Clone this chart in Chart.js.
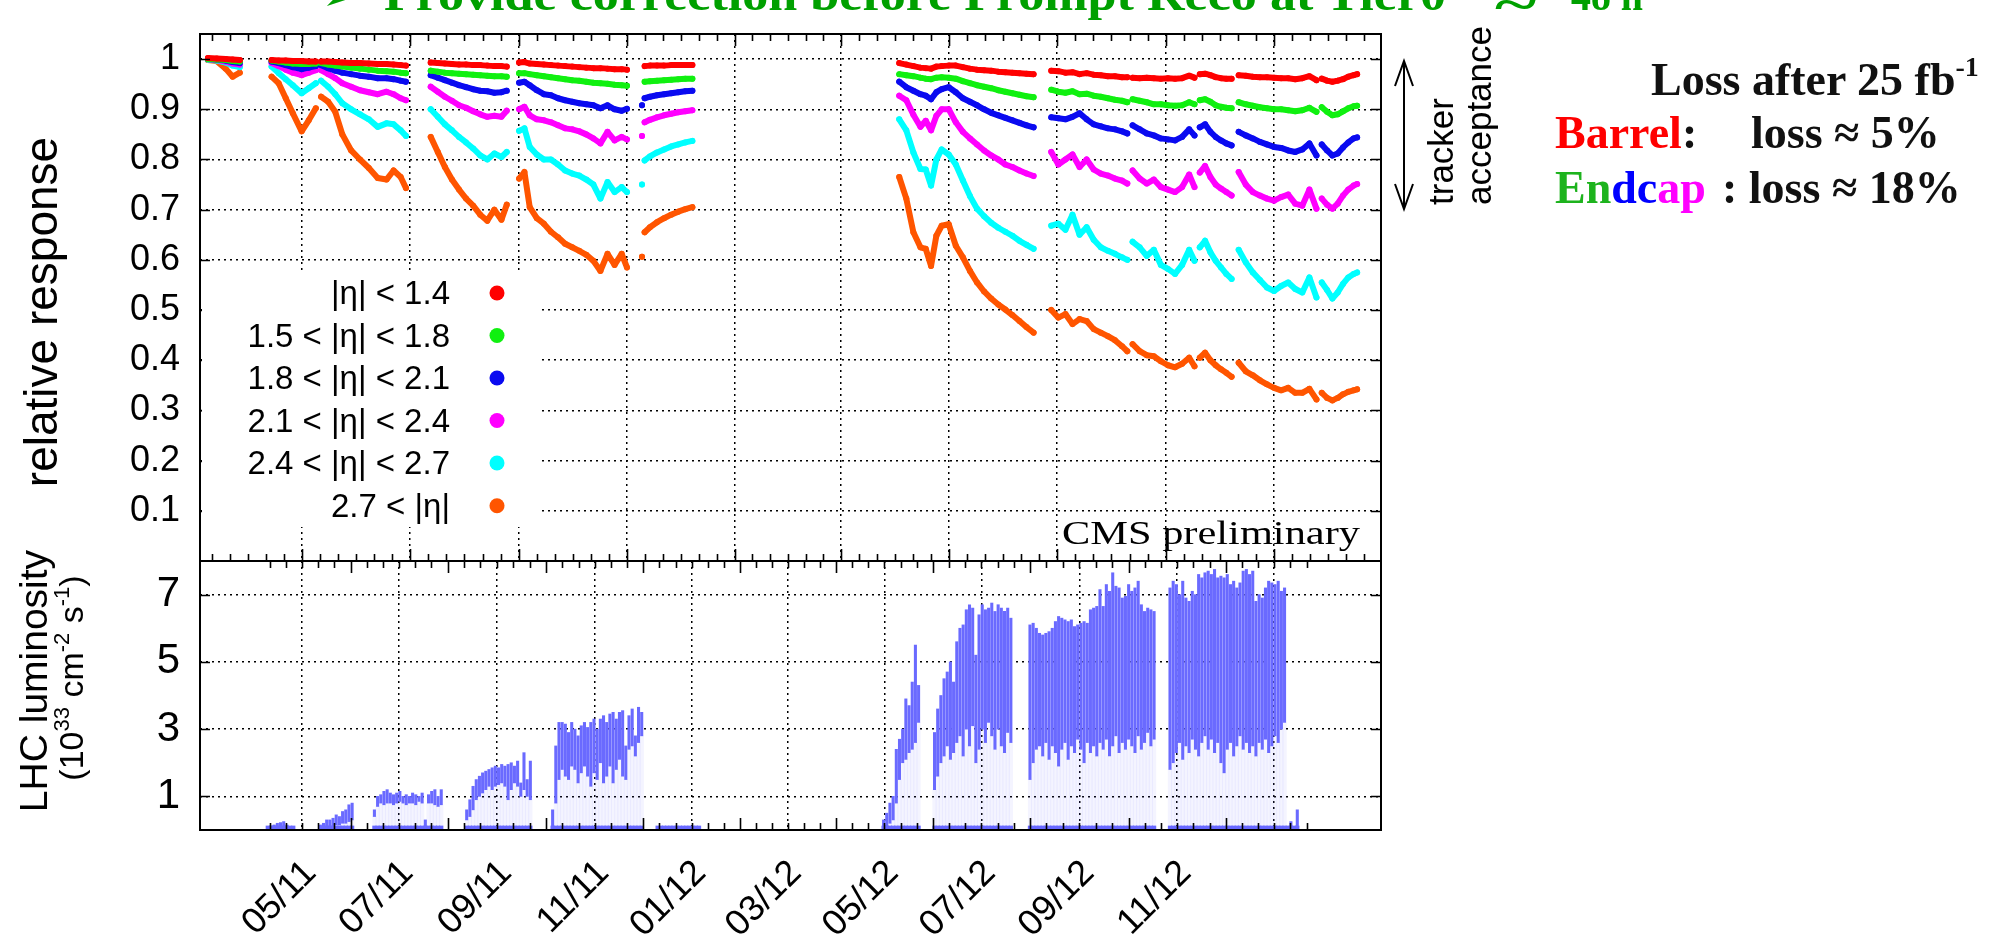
<!DOCTYPE html>
<html>
<head>
<meta charset="utf-8">
<script src="https://cdn.jsdelivr.net/npm/chart.js@4.4.0/dist/chart.umd.min.js"></script>
<style>
  html, body { margin: 0; padding: 0; background: #fff; }
  #wrap { position: relative; width: 1997px; height: 947px; overflow: hidden; }
  canvas { position: absolute; left: 0; }
  #respChart { top: 0; }
  #lumiChart { top: 545px; }
  #notes { position: absolute; left: 0; top: 0; }
</style>
</head>
<body>
<div id="wrap">
  <canvas id="respChart" width="1400" height="563"></canvas>
  <canvas id="lumiChart" width="1400" height="402"></canvas>
  <svg id="notes" width="1997" height="947" xmlns="http://www.w3.org/2000/svg">
    <text x="322" y="10" font-family="DejaVu Sans" font-size="44" fill="#00a000">➢</text>
    <text x="384" y="10" font-family="Liberation Serif" font-weight="bold" font-size="46" fill="#00a000"
          textLength="1062" lengthAdjust="spacingAndGlyphs">Provide correction before Prompt Reco at Tier0</text>
    <text x="1495" y="20" font-family="Liberation Serif" font-weight="bold" font-size="46" fill="#00a000"
          textLength="41" lengthAdjust="spacingAndGlyphs">~</text>
    <text x="1571" y="10" font-family="Liberation Serif" font-weight="bold" font-size="46" fill="#00a000"
          textLength="72" lengthAdjust="spacingAndGlyphs">48 h</text>

    <text transform="translate(57,312) rotate(-90)" text-anchor="middle" font-family="Liberation Sans" font-size="46">relative response</text>
    <text transform="translate(47,681) rotate(-90)" text-anchor="middle" font-family="Liberation Sans" font-size="39">LHC luminosity</text>
    <text transform="translate(83,678) rotate(-90)" text-anchor="middle" font-family="Liberation Sans" font-size="34">(10<tspan font-size="22" dy="-14">33</tspan><tspan dy="14"> cm</tspan><tspan font-size="22" dy="-14">-2</tspan><tspan dy="14"> s</tspan><tspan font-size="22" dy="-14">-1</tspan><tspan dy="14">)</tspan></text>

    <text x="1062" y="544" font-family="Liberation Serif" font-size="34" textLength="298" lengthAdjust="spacingAndGlyphs">CMS preliminary</text>

    <g stroke="#000" stroke-width="2" fill="none">
      <line x1="1404" y1="61" x2="1404" y2="209"/>
      <polyline points="1395,86 1404,61 1413,86"/>
      <polyline points="1395,184 1404,209 1413,184"/>
    </g>
    <text transform="translate(1453,205) rotate(-90)" font-family="Liberation Sans" font-size="35">tracker</text>
    <text transform="translate(1491,205) rotate(-90)" font-family="Liberation Sans" font-size="35">acceptance</text>

    <g font-family="Liberation Serif" font-weight="bold" font-size="46" fill="#111">
      <text x="1651" y="95">Loss after 25 fb<tspan font-size="28" dy="-19">-1</tspan></text>
      <text x="1555" y="148"><tspan fill="#ff0000">Barrel</tspan>:<tspan x="1751">loss ≈ 5%</tspan></text>
      <text x="1555" y="203"><tspan fill="#1db31d">En</tspan><tspan fill="#0000ff">dc</tspan><tspan fill="#ff00ff">ap</tspan><tspan x="1722">: loss ≈ 18%</tspan></text>
    </g>
    <g id="legend"></g>
  </svg>
</div>
<script>
// days counted from 1 Jan 2011
const tickDays = [120, 181, 243, 304, 365, 425, 486, 547, 609, 670];
const tickLabels = ['05/11', '07/11', '09/11', '11/11', '01/12', '03/12', '05/12', '07/12', '09/12', '11/12'];
const respTicks = [0.1, 0.2, 0.3, 0.4, 0.5, 0.6, 0.7, 0.8, 0.9, 1.0];
const respTickLabels = ['0.1', '0.2', '0.3', '0.4', '0.5', '0.6', '0.7', '0.8', '0.9', '1'];
const lumiTicks = [1, 3, 5, 7];
const lumiTickLabels = ['1', '3', '5', '7'];

const etaLabels = ['|η| < 1.4', '1.5 < |η| < 1.8', '1.8 < |η| < 2.1', '2.1 < |η| < 2.4', '2.4 < |η| < 2.7', '2.7 < |η|'];
const etaColors = ['#ff0000', '#10f010', '#0a0af0', '#ff00ff', '#00ffff', '#ff5500'];

// one row per fill period, last entry of a row is the gap after it
const respDays = [
  67, 72, 77, 81, 85, 94,
  103, 107, 111, 115, 120, 124, 128, 129.5,
  131, 135, 139, 143, 148, 153, 158, 163, 168, 172, 176, 179, 186,
  193, 197, 201, 205, 209, 213, 217, 221, 225, 229, 233, 236, 239.5,
  243, 246, 249, 253, 257, 261, 265, 269, 273, 277, 281, 285, 289, 293, 297, 301, 304, 308,
  312.5, 313.2,
  314, 317, 321, 325, 329, 333, 337, 341, 400,
  458, 462, 466, 470, 473, 476, 479, 482, 486, 490, 494, 498, 502, 506, 510, 514, 518, 522, 526, 530, 534, 539,
  544, 548, 552, 556, 560, 564, 568, 572, 576, 580, 584, 587, 588.7,
  590, 594, 598, 602, 606, 610, 614, 618, 622, 625, 626.8,
  628, 631, 634, 637, 640, 643, 646, 648.5,
  650, 654, 658, 662, 666, 670, 674, 678, 682, 686, 690, 694, 695.8,
  697, 700, 703, 706, 709, 712, 715, 717
];
const respEta14 = [
  1.002, 1.001, 1.000, 0.999, 0.998, null,
  0.998, 0.997, 0.997, 0.996, 0.996, 0.995, 0.995, null,
  0.995, 0.995, 0.994, 0.993, 0.992, 0.992, 0.991, 0.990, 0.990, 0.989, 0.988, 0.987, null,
  0.993, 0.992, 0.991, 0.990, 0.989, 0.989, 0.988, 0.988, 0.987, 0.986, 0.986, 0.985, null,
  0.993, 0.994, 0.991, 0.990, 0.989, 0.988, 0.987, 0.986, 0.985, 0.984, 0.983, 0.982, 0.982, 0.981, 0.980, 0.980, 0.979, null,
  null, null,
  0.986, 0.987, 0.987, 0.987, 0.988, 0.988, 0.988, 0.988, null,
  0.992, 0.989, 0.986, 0.983, 0.982, 0.981, 0.985, 0.986, 0.987, 0.987, 0.984, 0.981, 0.979, 0.978, 0.977, 0.975, 0.974, 0.973, 0.972, 0.971, 0.970, null,
  0.977, 0.976, 0.973, 0.974, 0.970, 0.972, 0.969, 0.968, 0.966, 0.966, 0.964, 0.964, null,
  0.963, 0.962, 0.963, 0.962, 0.961, 0.962, 0.961, 0.962, 0.967, 0.963, null,
  0.970, 0.971, 0.968, 0.964, 0.962, 0.961, 0.961, null,
  0.968, 0.967, 0.965, 0.964, 0.964, 0.963, 0.962, 0.962, 0.960, 0.962, 0.966, 0.958, null,
  0.961, 0.957, 0.955, 0.957, 0.960, 0.965, 0.968, 0.970
];
const respEta18 = [
  1.000, 0.999, 0.998, 0.996, 0.995, null,
  0.997, 0.995, 0.993, 0.991, 0.990, 0.990, 0.991, null,
  0.992, 0.989, 0.987, 0.985, 0.983, 0.981, 0.979, 0.977, 0.976, 0.975, 0.973, 0.972, null,
  0.977, 0.975, 0.973, 0.972, 0.971, 0.970, 0.969, 0.968, 0.967, 0.966, 0.966, 0.965, null,
  0.972, 0.972, 0.970, 0.968, 0.966, 0.964, 0.962, 0.960, 0.958, 0.957, 0.955, 0.953, 0.952, 0.951, 0.949, 0.948, 0.947, null,
  null, null,
  0.955, 0.956, 0.957, 0.958, 0.959, 0.960, 0.961, 0.961, null,
  0.970, 0.968, 0.966, 0.963, 0.961, 0.960, 0.963, 0.964, 0.963, 0.961, 0.956, 0.952, 0.948, 0.945, 0.942, 0.938, 0.935, 0.932, 0.929, 0.926, 0.924, null,
  0.939, 0.935, 0.933, 0.936, 0.930, 0.931, 0.927, 0.925, 0.922, 0.919, 0.917, 0.914, null,
  0.920, 0.917, 0.914, 0.910, 0.910, 0.908, 0.907, 0.908, 0.914, 0.910, null,
  0.918, 0.920, 0.915, 0.908, 0.905, 0.903, 0.902, null,
  0.914, 0.910, 0.907, 0.904, 0.902, 0.900, 0.900, 0.898, 0.896, 0.898, 0.903, 0.895, null,
  0.904, 0.895, 0.888, 0.890, 0.896, 0.902, 0.906, 0.907
];
const respEta21 = [
  1.000, 0.999, 0.997, 0.994, 0.992, null,
  0.995, 0.992, 0.988, 0.984, 0.980, 0.983, 0.986, null,
  0.988, 0.982, 0.977, 0.973, 0.970, 0.967, 0.965, 0.962, 0.962, 0.960, 0.957, 0.955, null,
  0.968, 0.963, 0.958, 0.953, 0.948, 0.944, 0.940, 0.937, 0.936, 0.933, 0.934, 0.937, null,
  0.953, 0.955, 0.948, 0.938, 0.930, 0.928, 0.922, 0.918, 0.915, 0.912, 0.910, 0.908, 0.902, 0.908, 0.900, 0.897, 0.901, null,
  0.908, null,
  0.922, 0.925, 0.928, 0.930, 0.932, 0.934, 0.936, 0.937, null,
  0.955, 0.944, 0.937, 0.930, 0.927, 0.920, 0.934, 0.940, 0.944, 0.934, 0.922, 0.915, 0.908, 0.900, 0.893, 0.888, 0.883, 0.878, 0.873, 0.868, 0.864, null,
  0.884, 0.882, 0.880, 0.885, 0.892, 0.880, 0.870, 0.866, 0.862, 0.860, 0.856, 0.852, null,
  0.868, 0.860, 0.852, 0.848, 0.842, 0.840, 0.838, 0.845, 0.860, 0.848, null,
  0.864, 0.870, 0.855, 0.845, 0.838, 0.832, 0.828, null,
  0.855, 0.848, 0.842, 0.835, 0.830, 0.825, 0.823, 0.818, 0.815, 0.820, 0.832, 0.808, null,
  0.830, 0.818, 0.808, 0.812, 0.824, 0.834, 0.842, 0.844
];
const respEta24 = [
  1.000, 0.998, 0.995, 0.991, 0.989, null,
  0.992, 0.986, 0.979, 0.973, 0.968, 0.973, 0.978, null,
  0.978, 0.970, 0.962, 0.952, 0.945, 0.938, 0.934, 0.930, 0.935, 0.930, 0.922, 0.918, null,
  0.945, 0.935, 0.925, 0.917, 0.908, 0.903, 0.896, 0.890, 0.885, 0.887, 0.885, 0.897, null,
  0.900, 0.905, 0.888, 0.880, 0.878, 0.874, 0.868, 0.862, 0.860, 0.856, 0.850, 0.842, 0.832, 0.855, 0.838, 0.845, 0.840, null,
  0.847, null,
  0.874, 0.879, 0.884, 0.888, 0.891, 0.894, 0.896, 0.898, null,
  0.927, 0.918, 0.889, 0.865, 0.877, 0.858, 0.887, 0.900, 0.900, 0.874, 0.855, 0.842, 0.830, 0.818, 0.808, 0.800, 0.790, 0.785, 0.778, 0.772, 0.767, null,
  0.815, 0.790, 0.800, 0.810, 0.785, 0.800, 0.780, 0.772, 0.768, 0.762, 0.758, 0.752, null,
  0.778, 0.762, 0.752, 0.760, 0.745, 0.740, 0.735, 0.745, 0.770, 0.745, null,
  0.774, 0.787, 0.765, 0.750, 0.742, 0.735, 0.728, null,
  0.775, 0.750, 0.735, 0.728, 0.722, 0.718, 0.725, 0.730, 0.712, 0.708, 0.740, 0.702, null,
  0.722, 0.710, 0.702, 0.712, 0.728, 0.740, 0.748, 0.751
];
const respEta27 = [
  0.999, 0.997, 0.993, 0.987, 0.984, null,
  0.985, 0.972, 0.960, 0.948, 0.932, 0.942, 0.952, null,
  0.957, 0.945, 0.930, 0.912, 0.900, 0.890, 0.880, 0.865, 0.872, 0.870, 0.858, 0.847, null,
  0.900, 0.885, 0.870, 0.858, 0.845, 0.834, 0.822, 0.808, 0.800, 0.812, 0.805, 0.815, null,
  0.857, 0.862, 0.825, 0.810, 0.800, 0.800, 0.790, 0.778, 0.772, 0.768, 0.760, 0.750, 0.722, 0.755, 0.735, 0.745, 0.735, null,
  0.750, null,
  0.798, 0.806, 0.814, 0.820, 0.826, 0.830, 0.834, 0.837, null,
  0.880, 0.858, 0.814, 0.781, 0.780, 0.748, 0.800, 0.820, 0.810, 0.790, 0.758, 0.727, 0.702, 0.687, 0.674, 0.664, 0.656, 0.648, 0.638, 0.630, 0.622, null,
  0.668, 0.672, 0.660, 0.690, 0.650, 0.665, 0.640, 0.625, 0.618, 0.612, 0.605, 0.600, null,
  0.636, 0.625, 0.608, 0.620, 0.590, 0.582, 0.572, 0.590, 0.620, 0.598, null,
  0.625, 0.638, 0.615, 0.598, 0.585, 0.572, 0.562, null,
  0.620, 0.595, 0.575, 0.560, 0.545, 0.538, 0.548, 0.555, 0.542, 0.535, 0.565, 0.525, null,
  0.555, 0.540, 0.523, 0.535, 0.552, 0.565, 0.572, 0.575
];
const respEtaFwd = [
  0.998, 0.996, 0.981, 0.965, 0.973, null,
  0.965, 0.952, 0.922, 0.892, 0.856, 0.878, 0.902, null,
  0.925, 0.915, 0.895, 0.850, 0.818, 0.800, 0.783, 0.763, 0.760, 0.778, 0.765, 0.743, null,
  0.845, 0.815, 0.785, 0.760, 0.740, 0.722, 0.708, 0.690, 0.678, 0.700, 0.680, 0.710, null,
  0.762, 0.775, 0.705, 0.683, 0.672, 0.656, 0.645, 0.632, 0.625, 0.618, 0.610, 0.598, 0.578, 0.612, 0.590, 0.612, 0.585, null,
  0.606, null,
  0.655, 0.665, 0.675, 0.683, 0.690, 0.696, 0.701, 0.705, null,
  0.765, 0.722, 0.655, 0.625, 0.622, 0.588, 0.648, 0.668, 0.671, 0.628, 0.605, 0.578, 0.555, 0.537, 0.523, 0.511, 0.501, 0.490, 0.478, 0.466, 0.455, null,
  0.500, 0.485, 0.492, 0.472, 0.482, 0.478, 0.462, 0.455, 0.448, 0.440, 0.428, 0.418, null,
  0.432, 0.418, 0.410, 0.408, 0.398, 0.390, 0.386, 0.393, 0.405, 0.388, null,
  0.405, 0.415, 0.400, 0.390, 0.382, 0.375, 0.367, null,
  0.395, 0.378, 0.370, 0.360, 0.352, 0.345, 0.340, 0.345, 0.335, 0.335, 0.343, 0.322, null,
  0.335, 0.325, 0.320, 0.325, 0.332, 0.337, 0.340, 0.342
];
const respSeries = [respEta14, respEta18, respEta21, respEta24, respEta27, respEtaFwd];

// luminosity, 1e33 cm^-2 s^-1: band of instantaneous values per day
const lumiDays = [
  68, 70, 72, 74, 76, 78, 80, 82, 84,
  101, 103, 105, 107, 109, 111, 113, 115, 117, 119, 121,
  135, 137, 139, 141, 143, 145, 147, 149, 151, 153, 155, 157, 159, 161, 163, 165, 167, 169, 171, 173, 175, 177,
  193, 195, 197, 199, 201, 203, 205, 207, 209, 211, 213, 215, 217, 219, 221, 223, 225, 227, 229, 231, 233,
  247, 249, 251, 253, 255, 257, 259, 261, 263, 265, 267, 269, 271, 273, 275, 277, 279, 281, 283, 285, 287, 289, 291, 293, 295, 297, 299, 301, 303,
  313, 315, 317, 319, 321, 323, 325, 327, 329, 331, 333, 335, 337, 339,
  455, 457, 459, 461, 463, 465, 467, 469, 471, 473, 475, 477,
  487, 489, 491, 493, 495, 497, 499, 501, 503, 505, 507, 509, 511, 513, 515, 517, 519, 521, 523, 525, 527, 529, 531, 533, 535,
  547, 549, 551, 553, 555, 557, 559, 561, 563, 565, 567, 569, 571, 573, 575, 577, 579, 581, 583, 585,
  587, 589, 591, 593, 595, 597, 599, 601, 603, 605, 607, 609, 611, 613, 615, 617, 619, 621, 623, 625,
  635, 637, 639, 641, 643, 645, 647, 649, 651, 653, 655, 657, 659, 661, 663, 665, 667, 669, 671,
  673, 675, 677, 679, 681, 683, 685, 687, 689, 691, 693, 695, 697, 699, 701, 703, 705, 707,
  709, 711, 713, 715
];
const lumiHigh = [
  0.10, 0.12, 0.15, 0.20, 0.22, 0.25, 0.15, 0.10, 0.08,
  0.15, 0.20, 0.30, 0.30, 0.35, 0.45, 0.40, 0.55, 0.60, 0.75, 0.80,
  0.60, 1.00, 1.05, 1.15, 1.20, 1.10, 1.05, 1.10, 1.15, 1.00, 1.05, 1.00, 1.10, 1.05, 1.00, 1.10, 0.30, 1.05, 1.15, 1.20, 1.00, 1.20,
  0.60, 0.90, 1.30, 1.50, 1.60, 1.70, 1.75, 1.80, 1.85, 1.90, 1.85, 1.95, 1.90, 1.95, 2.00, 1.90, 2.05, 1.40, 2.30, 1.50, 2.05,
  0.60, 2.50, 3.20, 3.20, 3.15, 2.90, 3.20, 3.00, 2.80, 3.10, 3.20, 3.05, 3.20, 3.30, 3.00, 3.30, 3.40, 3.20, 3.45, 3.50, 3.30, 3.50, 3.55, 2.50, 3.40, 3.60, 2.80, 3.65, 3.50,
  0.08, 0.08, 0.08, 0.08, 0.08, 0.08, 0.08, 0.08, 0.08, 0.08, 0.08, 0.08, 0.08, 0.08,
  0.30, 0.50, 0.80, 1.00, 2.40, 2.70, 3.00, 3.90, 3.70, 4.40, 5.50, 4.30,
  2.90, 3.60, 4.00, 4.50, 4.70, 5.00, 4.40, 5.60, 6.00, 6.10, 6.55, 6.70, 6.60, 5.20, 6.40, 6.70, 6.55, 6.60, 6.75, 6.50, 6.70, 6.60, 6.50, 6.60, 6.30,
  6.10, 6.15, 6.00, 5.85, 5.80, 5.85, 5.90, 6.00, 6.20, 6.35, 6.30, 6.25, 6.20, 6.25, 6.05, 6.10, 6.15, 6.20, 6.15, 6.55,
  6.60, 6.65, 7.15, 6.65, 7.30, 7.10, 7.65, 7.25, 7.20, 6.90, 6.95, 7.30, 7.10, 7.20, 7.40, 6.70, 6.50, 6.60, 6.55, 6.50,
  7.20, 7.40, 7.30, 7.00, 7.40, 6.90, 6.80, 7.10, 7.00, 7.60, 7.50, 7.65, 7.70, 7.60, 7.75, 7.50, 7.55, 7.50, 7.60,
  7.30, 7.40, 7.20, 7.35, 7.70, 7.75, 7.60, 7.70, 6.80, 7.00, 6.90, 7.20, 7.40, 7.35, 7.30, 7.40, 7.10, 7.20,
  0.10, 0.25, 0.10, 0.60
];
const lumiLow = [
  0, 0, 0, 0, 0, 0, 0, 0, 0,
  0.05, 0.05, 0.10, 0.10, 0.10, 0.15, 0.15, 0.20, 0.20, 0.25, 0.30,
  0.40, 0.70, 0.80, 0.75, 0.80, 0.80, 0.75, 0.80, 0.85, 0.80, 0.75, 0.80, 0.80, 0.75, 0.85, 0.80, 0.10, 0.80, 0.80, 0.75, 0.70, 0.75,
  0.30, 0.40, 0.60, 0.90, 1.00, 1.10, 1.20, 1.30, 1.20, 1.30, 1.35, 1.40, 1.30, 0.90, 1.20, 1.40, 1.30, 1.00, 1.20, 1.00, 0.90,
  0.10, 0.80, 1.50, 1.80, 1.60, 1.50, 1.90, 1.80, 1.40, 1.70, 1.90, 1.60, 1.30, 1.70, 1.50, 2.00, 1.40, 1.60, 1.90, 1.40, 1.80, 2.10, 1.60, 1.50, 2.40, 2.50, 2.20, 2.60, 2.80,
  0, 0, 0, 0, 0, 0, 0, 0, 0, 0, 0, 0, 0, 0,
  0, 0.10, 0.20, 0.30, 0.80, 1.50, 2.00, 2.10, 2.30, 2.40, 2.60, 3.20,
  1.20, 1.60, 2.00, 2.20, 2.50, 2.10, 2.30, 2.60, 2.80, 2.20, 3.00, 2.50, 3.10, 2.00, 2.40, 3.00, 2.60, 3.20, 2.80, 2.40, 3.00, 2.50, 2.30, 2.90, 2.60,
  1.50, 2.00, 2.40, 2.50, 2.20, 2.60, 2.10, 2.50, 2.30, 1.90, 2.40, 2.60, 2.10, 2.50, 2.30, 2.70, 2.40, 2.00, 2.60, 2.30,
  2.50, 2.20, 2.60, 2.40, 2.70, 2.20, 2.50, 2.80, 2.30, 2.60, 2.40, 2.70, 2.50, 2.30, 2.80, 2.40, 2.60, 2.90, 2.50, 2.70,
  1.80, 2.00, 2.30, 2.60, 2.10, 2.50, 2.30, 2.70, 2.40, 2.20, 2.60, 2.80, 2.40, 2.70, 2.30, 2.60, 2.00, 1.70, 2.40,
  2.60, 2.20, 2.50, 2.80, 2.40, 2.60, 2.30, 2.50, 2.20, 2.60, 2.40, 2.70, 2.30, 2.50, 2.80, 2.60, 3.00, 3.20,
  0, 0, 0, 0
];
const lumiFloor = 0.12;

const xMin = 62.5, xMax = 730.5;

function minorDays() {
  const out = [];
  for (let i = 0; i < tickDays.length - 1; i++) {
    const s = (tickDays[i + 1] - tickDays[i]) / 6;
    for (let j = 1; j < 6; j++) out.push(tickDays[i] + j * s);
  }
  const s0 = (tickDays[1] - tickDays[0]) / 6;
  for (let d = tickDays[0] - s0; d > xMin; d -= s0) out.push(d);
  const n = tickDays.length;
  const s1 = (tickDays[n - 1] - tickDays[n - 2]) / 6;
  for (let d = tickDays[n - 1] + s1; d < xMax; d += s1) out.push(d);
  return out;
}

// gnuplot style: ticks pointing inwards on all four sides and a closed frame
const frameTicks = {
  id: 'frameTicks',
  afterDraw(chart, args, opts) {
    const { ctx, chartArea: a } = chart;
    const xs = chart.scales.x, ys = chart.scales.y;
    ctx.save();
    ctx.strokeStyle = '#000';
    ctx.lineWidth = 1.6;
    ctx.beginPath();
    const xt = (d, len) => {
      const px = Math.round(xs.getPixelForValue(d)) + 0.5;
      ctx.moveTo(px, a.top); ctx.lineTo(px, a.top + len);
      ctx.moveTo(px, a.bottom); ctx.lineTo(px, a.bottom - len);
    };
    tickDays.forEach(d => xt(d, 12));
    minorDays().forEach(d => xt(d, 7));
    opts.yTicks.forEach(v => {
      const py = Math.round(ys.getPixelForValue(v)) + 0.5;
      ctx.moveTo(a.left, py); ctx.lineTo(a.left + 10, py);
      ctx.moveTo(a.right, py); ctx.lineTo(a.right - 10, py);
    });
    ctx.stroke();
    ctx.lineWidth = 2;
    ctx.strokeRect(a.left, a.top, a.right - a.left, a.bottom - a.top);
    ctx.restore();
  }
};

Chart.defaults.font.family = 'Liberation Sans';
Chart.defaults.color = '#000';

const gridStyle = { color: '#000', lineWidth: 1.5, drawTicks: false };
const dotted = { display: false, dash: [2, 4] };

function xAxis(withLabels) {
  return {
    type: 'linear',
    min: xMin,
    max: xMax,
    afterBuildTicks: s => { s.ticks = tickDays.map(v => ({ value: v })); },
    afterFit: s => {
      s.height = withLabels ? 117 : 0;
      s.paddingLeft = 0;
      s.paddingRight = 0;
    },
    grid: gridStyle,
    border: dotted,
    ticks: withLabels ? {
      autoSkip: false,
      minRotation: 45,
      maxRotation: 45,
      padding: 22,
      labelOffset: -40,
      font: { size: 36 },
      callback: (v, i) => tickLabels[i]
    } : { display: false }
  };
}

function yAxis(min, max, ticks, labels, size) {
  return {
    type: 'linear',
    min: min,
    max: max,
    afterBuildTicks: s => { s.ticks = ticks.map(v => ({ value: v })); },
    afterFit: s => {
      s.width = 200;
      s.paddingTop = 0;
      s.paddingBottom = 0;
    },
    grid: gridStyle,
    border: dotted,
    ticks: { autoSkip: false, padding: 20, font: { size: size }, callback: (v, i) => labels[i] }
  };
}

new Chart(document.getElementById('respChart'), {
  type: 'line',
  data: {
    datasets: respSeries.map((vals, k) => ({
      label: etaLabels[k],
      data: respDays.map((d, i) => ({ x: d, y: vals[i] })),
      borderColor: etaColors[k],
      backgroundColor: etaColors[k],
      borderWidth: 6,
      pointRadius: 3,
      pointBorderWidth: 0,
      borderJoinStyle: 'round',
      borderCapStyle: 'round',
      spanGaps: false,
      tension: 0
    }))
  },
  options: {
    responsive: false,
    animation: false,
    devicePixelRatio: 1,
    layout: { autoPadding: false, padding: { left: 0, right: 19, top: 34, bottom: 2 } },
    plugins: { legend: { display: false }, tooltip: { enabled: false }, frameTicks: { yTicks: respTicks } },
    scales: {
      x: xAxis(false),
      y: yAxis(0, 1.05, respTicks, respTickLabels, 36)
    }
  },
  plugins: [frameTicks]
});

new Chart(document.getElementById('lumiChart'), {
  type: 'bar',
  data: {
    datasets: [
      {
        label: 'low',
        data: lumiDays.map((d, i) => ({ x: d, y: [0, lumiLow[i]] })),
        backgroundColor: 'rgba(106,106,255,0.07)',
        barThickness: 3.6,
        grouped: false
      },
      {
        label: 'LHC luminosity',
        data: lumiDays.map((d, i) => ({ x: d, y: [lumiLow[i], lumiHigh[i]] })),
        backgroundColor: '#6a6aff',
        barThickness: 2.4,
        grouped: false
      },
      {
        label: 'floor',
        data: lumiDays.map(d => ({ x: d, y: [0, lumiFloor] })),
        backgroundColor: '#6a6aff',
        barThickness: 3.6,
        grouped: false
      }
    ]
  },
  options: {
    responsive: false,
    animation: false,
    devicePixelRatio: 1,
    layout: { autoPadding: false, padding: { left: 0, right: 19, top: 16, bottom: 0 } },
    plugins: { legend: { display: false }, tooltip: { enabled: false }, frameTicks: { yTicks: lumiTicks } },
    scales: {
      x: xAxis(true),
      y: yAxis(0, 8, lumiTicks, lumiTickLabels, 42)
    }
  },
  plugins: [frameTicks]
});

// legend drawn inside the response panel, white box hides the grid
const NS = 'http://www.w3.org/2000/svg';
const legend = document.getElementById('legend');
function svgEl(tag, attrs, text) {
  const el = document.createElementNS(NS, tag);
  for (const k in attrs) el.setAttribute(k, attrs[k]);
  if (text) el.textContent = text;
  legend.appendChild(el);
  return el;
}
svgEl('rect', { x: 202, y: 270, width: 338, height: 257, fill: '#fff' });
const rowY = [293, 335.5, 378, 420.5, 463, 505.7];
etaLabels.forEach((lab, k) => {
  svgEl('text', { x: 450, y: rowY[k] + 11, 'text-anchor': 'end', 'font-family': 'Liberation Sans', 'font-size': 33 }, lab);
  svgEl('circle', { cx: 497, cy: rowY[k], r: 7.5, fill: etaColors[k] });
});
</script>
</body>
</html>
